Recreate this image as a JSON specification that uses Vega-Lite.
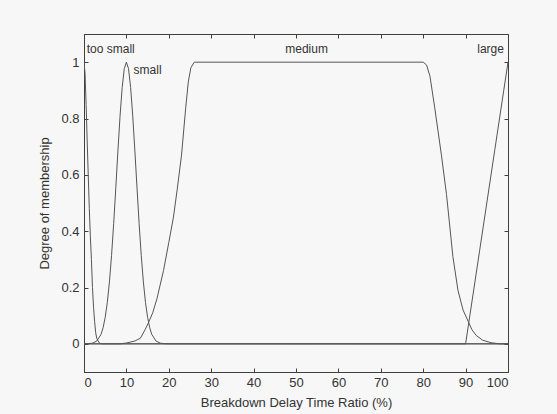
{
  "$schema": "https://vega.github.io/schema/vega-lite/v6.json",
  "width": 424,
  "height": 338,
  "autosize": {"type": "none"},
  "padding": {"left": 84, "top": 34, "right": 49, "bottom": 42},
  "background": "#f7f7f7",
  "config": {
    "view": {"stroke": "#404040", "strokeWidth": 1},
    "font": "Liberation Sans",
    "axis": {
      "domainColor": "#404040",
      "tickColor": "#404040",
      "labelColor": "#333333",
      "titleColor": "#333333",
      "labelFont": "Liberation Sans Narrow, Liberation Sans",
      "labelFontSize": 13,
      "titleFontWeight": "normal",
      "grid": false
    }
  },
  "datasets": {
    "mfs": [
      {"mf": "too small", "x": 0, "y": 1},
      {"mf": "too small", "x": 0.25, "y": 0.96},
      {"mf": "too small", "x": 0.5, "y": 0.85},
      {"mf": "too small", "x": 0.75, "y": 0.72},
      {"mf": "too small", "x": 1, "y": 0.6},
      {"mf": "too small", "x": 1.25, "y": 0.48},
      {"mf": "too small", "x": 1.5, "y": 0.38},
      {"mf": "too small", "x": 1.75, "y": 0.3},
      {"mf": "too small", "x": 2, "y": 0.2},
      {"mf": "too small", "x": 2.25, "y": 0.13},
      {"mf": "too small", "x": 2.5, "y": 0.08},
      {"mf": "too small", "x": 2.75, "y": 0.04},
      {"mf": "too small", "x": 3, "y": 0.02},
      {"mf": "too small", "x": 3.5, "y": 0.005},
      {"mf": "too small", "x": 4, "y": 0},
      {"mf": "too small", "x": 100, "y": 0},
      {"mf": "small", "x": 0, "y": 0.0001},
      {"mf": "small", "x": 1, "y": 0.0005},
      {"mf": "small", "x": 2, "y": 0.0024},
      {"mf": "small", "x": 3, "y": 0.0097},
      {"mf": "small", "x": 4, "y": 0.033},
      {"mf": "small", "x": 4.5, "y": 0.057},
      {"mf": "small", "x": 5, "y": 0.094},
      {"mf": "small", "x": 5.5, "y": 0.147},
      {"mf": "small", "x": 6, "y": 0.22},
      {"mf": "small", "x": 6.5, "y": 0.314},
      {"mf": "small", "x": 7, "y": 0.427},
      {"mf": "small", "x": 7.5, "y": 0.554},
      {"mf": "small", "x": 8, "y": 0.685},
      {"mf": "small", "x": 8.5, "y": 0.808},
      {"mf": "small", "x": 9, "y": 0.91},
      {"mf": "small", "x": 9.5, "y": 0.977},
      {"mf": "small", "x": 10, "y": 1},
      {"mf": "small", "x": 10.5, "y": 0.977},
      {"mf": "small", "x": 11, "y": 0.91},
      {"mf": "small", "x": 11.5, "y": 0.808},
      {"mf": "small", "x": 12, "y": 0.685},
      {"mf": "small", "x": 12.5, "y": 0.554},
      {"mf": "small", "x": 13, "y": 0.427},
      {"mf": "small", "x": 13.5, "y": 0.314},
      {"mf": "small", "x": 14, "y": 0.22},
      {"mf": "small", "x": 14.5, "y": 0.147},
      {"mf": "small", "x": 15, "y": 0.094},
      {"mf": "small", "x": 15.5, "y": 0.057},
      {"mf": "small", "x": 16, "y": 0.033},
      {"mf": "small", "x": 17, "y": 0.0097},
      {"mf": "small", "x": 18, "y": 0.0024},
      {"mf": "small", "x": 19, "y": 0.0005},
      {"mf": "small", "x": 20, "y": 0.0001},
      {"mf": "small", "x": 100, "y": 0},
      {"mf": "medium", "x": 0, "y": 0},
      {"mf": "medium", "x": 8.5, "y": 0},
      {"mf": "medium", "x": 10, "y": 0.003},
      {"mf": "medium", "x": 12, "y": 0.01},
      {"mf": "medium", "x": 13.3, "y": 0.02},
      {"mf": "medium", "x": 14.4, "y": 0.05},
      {"mf": "medium", "x": 15.2, "y": 0.075},
      {"mf": "medium", "x": 16.2, "y": 0.11},
      {"mf": "medium", "x": 17.2, "y": 0.16},
      {"mf": "medium", "x": 18.75, "y": 0.26},
      {"mf": "medium", "x": 20, "y": 0.36},
      {"mf": "medium", "x": 21.1, "y": 0.45},
      {"mf": "medium", "x": 22, "y": 0.55},
      {"mf": "medium", "x": 23, "y": 0.67},
      {"mf": "medium", "x": 24, "y": 0.84},
      {"mf": "medium", "x": 24.6, "y": 0.93},
      {"mf": "medium", "x": 25.2, "y": 0.98},
      {"mf": "medium", "x": 26, "y": 1},
      {"mf": "medium", "x": 80, "y": 1},
      {"mf": "medium", "x": 80.8, "y": 0.99},
      {"mf": "medium", "x": 81.6, "y": 0.95},
      {"mf": "medium", "x": 82.7, "y": 0.84},
      {"mf": "medium", "x": 84.3, "y": 0.67},
      {"mf": "medium", "x": 85.5, "y": 0.53},
      {"mf": "medium", "x": 87, "y": 0.31},
      {"mf": "medium", "x": 88.2, "y": 0.19},
      {"mf": "medium", "x": 89.4, "y": 0.12},
      {"mf": "medium", "x": 90.6, "y": 0.08},
      {"mf": "medium", "x": 91.5, "y": 0.05},
      {"mf": "medium", "x": 92.5, "y": 0.03},
      {"mf": "medium", "x": 94, "y": 0.013},
      {"mf": "medium", "x": 96, "y": 0.004},
      {"mf": "medium", "x": 98, "y": 0},
      {"mf": "medium", "x": 100, "y": 0},
      {"mf": "large", "x": 0, "y": 0},
      {"mf": "large", "x": 90, "y": 0},
      {"mf": "large", "x": 93.3, "y": 0.33},
      {"mf": "large", "x": 96.9, "y": 0.69},
      {"mf": "large", "x": 99, "y": 0.9},
      {"mf": "large", "x": 100, "y": 1}
    ],
    "labels": [
      {"label": "too small", "x": 6.3, "y": 1.048},
      {"label": "small", "x": 15.0, "y": 0.972},
      {"label": "medium", "x": 52.5, "y": 1.048},
      {"label": "large", "x": 95.9, "y": 1.048}
    ]
  },
  "layer": [
    {
      "data": {"name": "mfs"},
      "mark": {"type": "line", "color": "#555555", "strokeWidth": 1, "clip": true},
      "encoding": {
        "x": {
          "field": "x", "type": "quantitative",
          "scale": {"domain": [0, 100], "nice": false, "zero": false},
          "axis": {
            "orient": "bottom", "values": [0, 10, 20, 30, 40, 50, 60, 70, 80, 90, 100],
            "tickSize": -4, "labelPadding": 8, "domain": true,
            "title": "Breakdown Delay Time Ratio (%)",
            "titleFont": "Liberation Sans Narrow, Liberation Sans", "titleFontSize": 13, "titlePadding": 7
          }
        },
        "y": {
          "field": "y", "type": "quantitative",
          "scale": {"domain": [-0.1, 1.1], "nice": false, "zero": false},
          "axis": {
            "orient": "left", "values": [0, 0.2, 0.4, 0.6, 0.8, 1], "format": "~g",
            "tickSize": -4, "labelPadding": 9, "domain": true,
            "title": "Degree of membership",
            "titleFont": "Liberation Sans", "titleFontSize": 13, "titlePadding": 9
          }
        },
        "detail": {"field": "mf"}
      }
    },
    {
      "data": {"name": "labels"},
      "mark": {"type": "text", "color": "#333333", "font": "Liberation Sans", "fontSize": 12, "align": "center", "baseline": "middle"},
      "encoding": {
        "x": {
          "field": "x", "type": "quantitative",
          "axis": {"orient": "top", "values": [0, 10, 20, 30, 40, 50, 60, 70, 80, 90, 100], "tickSize": -4, "labels": false, "title": null, "domain": true}
        },
        "y": {
          "field": "y", "type": "quantitative",
          "axis": {"orient": "right", "values": [0, 0.2, 0.4, 0.6, 0.8, 1], "tickSize": -4, "labels": false, "title": null, "domain": true}
        },
        "text": {"field": "label"}
      }
    }
  ]
}
